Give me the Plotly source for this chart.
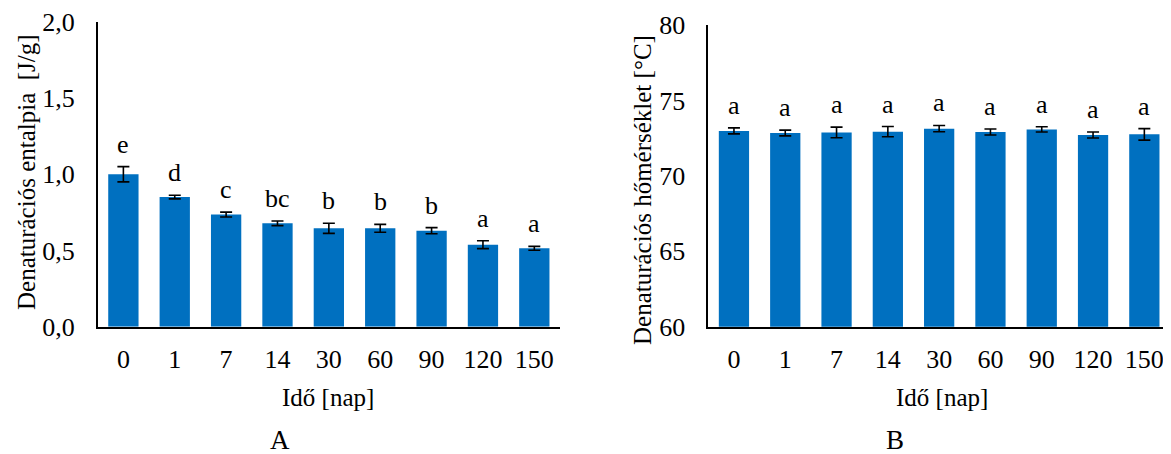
import plotly.graph_objects as go

days = ["0", "1", "7", "14", "30", "60", "90", "120", "150"]

enthalpy = [1.00, 0.85, 0.735, 0.678, 0.645, 0.645, 0.63, 0.538, 0.514]
enthalpy_err = [0.05, 0.012, 0.016, 0.015, 0.033, 0.026, 0.02, 0.026, 0.013]
enthalpy_letters = ["e", "d", "c", "bc", "b", "b", "b", "a", "a"]

temperature = [72.98, 72.84, 72.88, 72.93, 73.13, 72.91, 73.08, 72.71, 72.75]
temperature_err = [0.2, 0.19, 0.35, 0.34, 0.21, 0.2, 0.17, 0.2, 0.38]
temperature_letters = ["a", "a", "a", "a", "a", "a", "a", "a", "a"]

# page body has an 8px margin; work in viewport pixels and convert
OFF = 8
W, H = 1171 - OFF, 454 - OFF


def px(x):
    return (x - OFF) / W


def py(y):
    return 1 - (y - OFF) / H


FONT = "Times New Roman"
BLUE = "#0070C0"

fig = go.Figure()

fig.add_trace(go.Bar(
    x=days, y=enthalpy, xaxis="x", yaxis="y",
    marker=dict(color=BLUE, line=dict(width=0)),
    error_y=dict(type="data", array=enthalpy_err, color="black", thickness=1.6, width=6),
    showlegend=False,
))
fig.add_trace(go.Bar(
    x=days, y=temperature, xaxis="x2", yaxis="y2",
    marker=dict(color=BLUE, line=dict(width=0)),
    error_y=dict(type="data", array=temperature_err, color="black", thickness=1.6, width=6),
    showlegend=False,
))

LETTER_FONT = dict(family=FONT, size=26, color="black")
annotations = []
for i, (v, e, t) in enumerate(zip(enthalpy, enthalpy_err, enthalpy_letters)):
    annotations.append(dict(x=i, y=v + e, xref="x", yref="y", text=t, showarrow=False,
                            yanchor="bottom", yshift=6, font=LETTER_FONT))
for i, (v, e, t) in enumerate(zip(temperature, temperature_err, temperature_letters)):
    annotations.append(dict(x=i, y=v + e, xref="x2", yref="y2", text=t, showarrow=False,
                            yanchor="bottom", yshift=6, font=LETTER_FONT))

TITLE_FONT = dict(family=FONT, size=25, color="black")
annotations += [
    dict(x=px(27), y=py(172), xref="paper", yref="paper", text="Denaturációs entalpia  [J/g]",
         textangle=-90, showarrow=False, xanchor="center", yanchor="middle", font=TITLE_FONT),
    dict(x=px(642), y=py(190), xref="paper", yref="paper", text="Denaturációs hőmérséklet [°C]",
         textangle=-90, showarrow=False, xanchor="center", yanchor="middle", font=TITLE_FONT),
    dict(x=px(328), y=py(397), xref="paper", yref="paper", text="Idő [nap]",
         showarrow=False, xanchor="center", yanchor="middle", font=TITLE_FONT),
    dict(x=px(942), y=py(397), xref="paper", yref="paper", text="Idő [nap]",
         showarrow=False, xanchor="center", yanchor="middle", font=TITLE_FONT),
    dict(x=px(280), y=py(440), xref="paper", yref="paper", text="A",
         showarrow=False, xanchor="center", yanchor="middle",
         font=dict(family=FONT, size=27, color="black")),
    dict(x=px(895), y=py(440), xref="paper", yref="paper", text="B",
         showarrow=False, xanchor="center", yanchor="middle",
         font=dict(family=FONT, size=27, color="black")),
]

tickfont = dict(family=FONT, size=26, color="black")
xcommon = dict(type="category", showline=True, linecolor="black", linewidth=1.5, ticks="",
               showgrid=False, zeroline=False, tickfont=tickfont, ticklabelstandoff=8,
               range=[-0.5, 8.5], automargin=False, ticklabeloverflow="allow")
ycommon = dict(showline=True, linecolor="black", linewidth=1.5, ticks="", showgrid=False,
               zeroline=False, tickfont=tickfont, ticklabelstandoff=16, automargin=False,
               ticklabeloverflow="allow")

fig.update_layout(
    width=W, height=H,
    margin=dict(l=0, r=0, t=0, b=0, autoexpand=False),
    paper_bgcolor="white", plot_bgcolor="white",
    bargap=0.41,
    font=dict(family=FONT, color="black"),
    xaxis=dict(domain=[px(97.7), px(560)], anchor="y", **xcommon),
    yaxis=dict(domain=[py(326.7), py(21.7)], anchor="x", range=[0, 2.0],
               tickvals=[0, 0.5, 1.0, 1.5, 2.0], ticktext=["0,0", "0,5", "1,0", "1,5", "2,0"], **ycommon),
    xaxis2=dict(domain=[px(708.3), min(1.0, px(1170))], anchor="y2", **xcommon),
    yaxis2=dict(domain=[py(326.7), py(25)], anchor="x2", range=[60, 80], dtick=5, **ycommon),
    annotations=annotations,
)

fig.write_html("out.html")
